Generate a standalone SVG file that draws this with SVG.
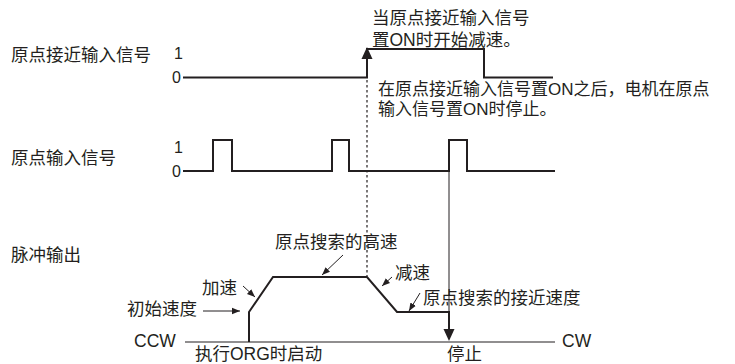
<svg xmlns="http://www.w3.org/2000/svg" width="735" height="364" viewBox="0 0 735 364">
<defs>
<style>
text{font-family:"Liberation Sans","Noto Sans CJK SC",sans-serif;font-size:17.5px;fill:#231f20}
.d{font-size:16px}
.n{font-size:17px}
.sig{fill:none;stroke:#231f20;stroke-width:2;stroke-linejoin:miter}
.thin{fill:none;stroke:#231f20;stroke-width:1.2}
.lead{fill:none;stroke:#231f20;stroke-width:1}
.dot{fill:none;stroke:#231f20;stroke-width:1.2;stroke-dasharray:2.5 2.5}
</style>
<marker id="ah" viewBox="0 0 10 10" refX="10" refY="5" markerWidth="8" markerHeight="8" markerUnits="userSpaceOnUse" orient="auto">
<path d="M0,1 L10,5 L0,9 Z" fill="#231f20"/>
</marker>
</defs>
<rect width="735" height="364" fill="#fff"/>

<g id="labels">
<text x="11" y="61">原点接近输入信号</text>
<text x="11" y="164">原点输入信号</text>
<text x="11" y="261">脉冲输出</text>
<text class="d" x="174" y="59">1</text>
<text class="d" x="172" y="83">0</text>
<text class="d" x="174" y="153">1</text>
<text class="d" x="172" y="177">0</text>
</g>

<g id="connectors">
<path class="dot" d="M367,60 V276"/>
<path class="lead" d="M449,171 V312"/>
<path class="sig" d="M449,311 V331"/>
<polygon points="443.5,329 454.5,329 449,341" fill="#231f20"/>
<polygon points="361.5,59 372.5,59 367,47" fill="#231f20"/>
<line class="lead" x1="343" y1="255" x2="322" y2="275" marker-end="url(#ah)"/>
<line class="lead" x1="243" y1="286" x2="255" y2="297" marker-end="url(#ah)"/>
<line class="lead" x1="203" y1="311" x2="240" y2="311" marker-end="url(#ah)"/>
<line class="lead" x1="392" y1="277" x2="382" y2="286" marker-end="url(#ah)"/>
<line class="lead" x1="420" y1="293" x2="409" y2="311" marker-end="url(#ah)"/>
</g>

<g id="approach-signal">
<path class="sig" d="M183,77.5 H367 V49 H484 V77.5 H553"/>
</g>

<g id="origin-signal">
<path class="sig" d="M183,171 H213 V140 H232 V171 H332 V140 H349 V171 H449 V140 H467 V171 H555"/>
</g>

<g id="pulse-output">
<path class="thin" d="M185,342 H555"/>
<path class="sig" d="M249,342 V312 L273,277 H367 L397,312 H449"/>
<text x="134" y="347">CCW</text>
<text x="562" y="347">CW</text>
</g>

<g id="notes">
<text x="372" y="24">当原点接近输入信号</text>
<text x="372" y="46">置ON时开始减速。</text>
<text class="n" x="378" y="95">在原点接近输入信号置ON之后，电机在原点</text>
<text class="n" x="378" y="115">输入信号置ON时停止。</text>
<text x="275" y="248">原点搜索的高速</text>
<text x="202" y="294">加速</text>
<text x="127" y="315">初始速度</text>
<text x="395" y="279">减速</text>
<text x="423" y="304">原点搜索的接近速度</text>
<text x="195" y="360">执行ORG时启动</text>
<text x="447" y="360">停止</text>
</g>
</svg>
